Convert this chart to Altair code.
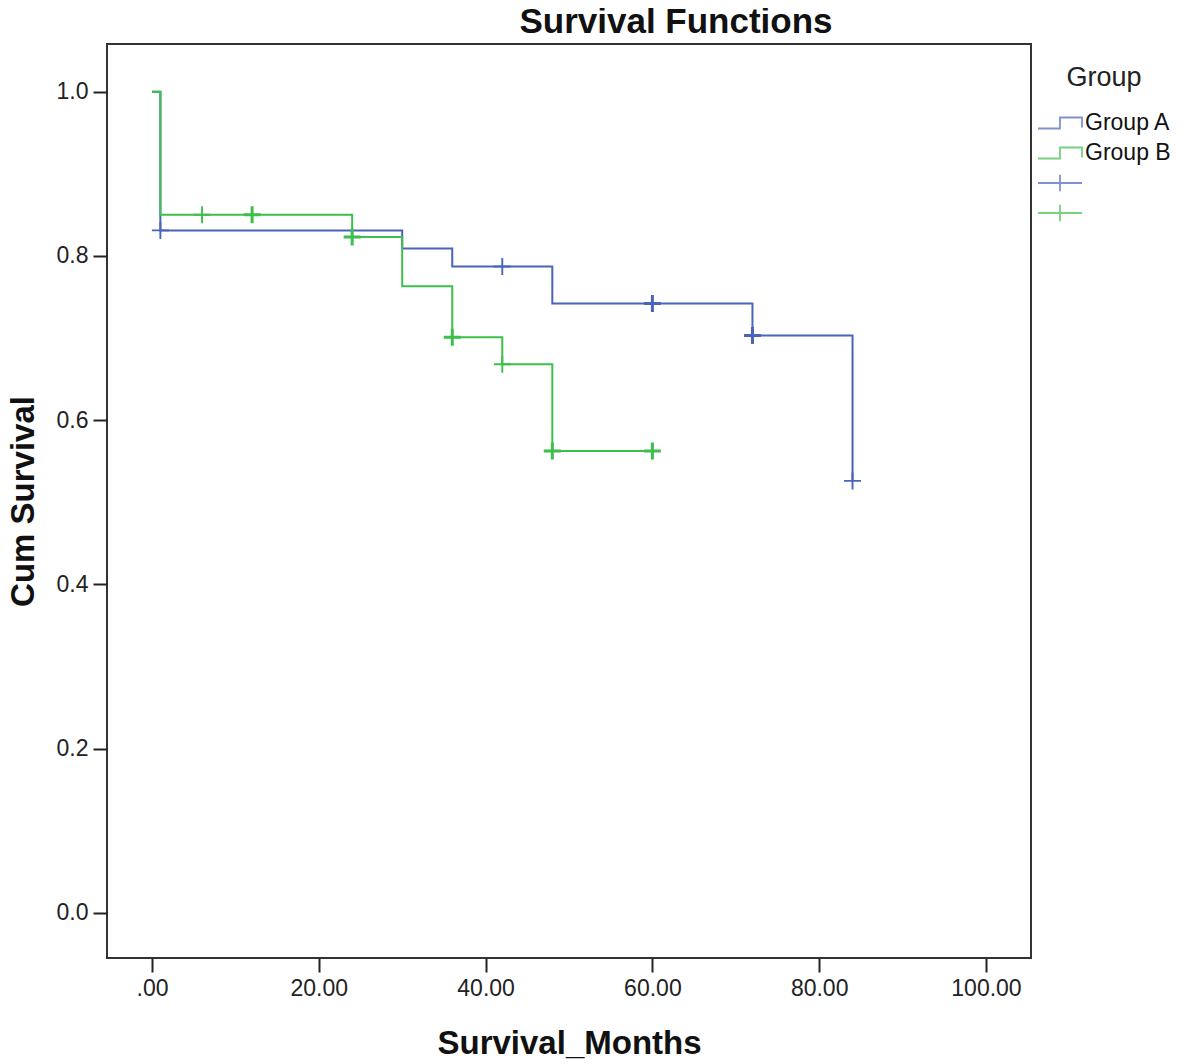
import altair as alt
import pandas as pd

# ---- data ----
a_time = [0, 1, 30, 36, 48, 72, 84]
a_surv = [1.0, 0.831, 0.809, 0.787, 0.742, 0.703, 0.526]
b_time = [0, 1, 24, 30, 36, 42, 48, 60]
b_surv = [1.0, 0.850, 0.823, 0.763, 0.701, 0.668, 0.5625, 0.5625]

a_cens_time = [1, 42, 60, 72, 84]
a_cens_surv = [0.831, 0.787, 0.742, 0.703, 0.526]
a_cens_n = [1, 1, 2, 2, 1]
b_cens_time = [6, 12, 24, 36, 42, 48, 60]
b_cens_surv = [0.850, 0.850, 0.823, 0.701, 0.668, 0.5625, 0.5625]
b_cens_n = [1, 2, 2, 2, 1, 2, 2]

legend_keys = ["Group A", "Group B", "A_c", "B_c"]
x_ticks = [0, 20, 40, 60, 80, 100]
y_ticks = [0.0, 0.2, 0.4, 0.6, 0.8, 1.0]

BLUE = "#4A64BC"
GREEN = "#3EBE4A"
FONT = "Liberation Sans"

lines = pd.DataFrame(
    {"t": a_time + b_time,
     "s": a_surv + b_surv,
     "key": ["Group A"] * len(a_time) + ["Group B"] * len(b_time)}
)
cens = pd.DataFrame(
    {"t": a_cens_time + b_cens_time,
     "s": a_cens_surv + b_cens_surv,
     "n": a_cens_n + b_cens_n,
     "key": ["Group A"] * len(a_cens_time) + ["Group B"] * len(b_cens_time)}
)
leg = pd.DataFrame({"t": [0] * 4, "s": [0] * 4, "key": legend_keys})

color_scale = alt.Scale(domain=legend_keys, range=[BLUE, GREEN, BLUE, GREEN])
STEP = "M-2,0.5H0V-0.5H2V0.4"
PLUS_LEG = "M-2,0H2M0,-0.75V0.75"
shape_scale = alt.Scale(domain=legend_keys, range=[STEP, STEP, PLUS_LEG, PLUS_LEG])

x_enc = alt.X("t:Q", scale=alt.Scale(domain=[-5.4, 105.4], nice=False, zero=False),
              axis=alt.Axis(values=x_ticks, title="Survival_Months",
                            labelExpr="datum.value == 0 ? '.00' : format(datum.value, '.2f')"))
y_enc = alt.Y("s:Q", scale=alt.Scale(domain=[-0.055, 1.058], nice=False, zero=False),
              axis=alt.Axis(values=y_ticks, format=".1f", title="Cum Survival"))

legend_def = alt.Legend(
    title="Group", orient="none", legendX=930, legendY=21,
    titleFontSize=27, titleFontWeight="normal", titleFont=FONT, titleColor="#222",
    titleAnchor="middle", titlePadding=19,
    labelFontSize=23, labelFont=FONT, labelColor="#111",
    labelExpr="indexof(datum.label, '_c') >= 0 ? '' : datum.label",
    symbolSize=484, symbolStrokeWidth=1.8, symbolOffset=11, labelOffset=13,
    rowPadding=6,
)

# legend-only layer first so its legend settings win the merge
legend_layer = alt.Chart(leg).mark_point(filled=False, size=484).encode(
    x=x_enc, y=y_enc,
    color=alt.Color("key:N", scale=color_scale, legend=legend_def),
    shape=alt.Shape("key:N", scale=shape_scale, legend=legend_def),
).transform_filter("datum.t > 1000")

line_layer = alt.Chart(lines).mark_line(interpolate="step-after", strokeWidth=2).encode(
    x=x_enc, y=y_enc,
    color=alt.Color("key:N", scale=color_scale, legend=None),
    detail="key:N",
)

cens_layer = alt.Chart(cens).mark_point(
    shape="M-1,0H1M0,-1V1", size=289, filled=False, opacity=1
).encode(
    x=x_enc, y=y_enc,
    color=alt.Color("key:N", scale=color_scale, legend=None),
    strokeWidth=alt.StrokeWidth("n:Q", scale=alt.Scale(domain=[1, 2], range=[1.9, 3.0]), legend=None),
)

chart = alt.layer(legend_layer, line_layer, cens_layer).properties(
    width=924, height=914,
    autosize=alt.AutoSizeParams(type="none"),
    padding={"left": 99, "top": 36, "right": 142, "bottom": 106},
    title=alt.Title("Survival Functions", fontSize=35, font=FONT, fontWeight="bold",
                    anchor="middle", dx=107, offset=4, color="#111"),
).configure_view(
    stroke="#333", strokeWidth=2
).configure_axis(
    domain=False, grid=False,
    ticks=True, tickColor="#222", tickWidth=2, tickSize=14,
    labelFont=FONT, labelFontSize=23, labelColor="#222", labelPadding=5,
    titleFont=FONT, titleFontSize=33, titleFontWeight="bold", titleColor="#111",
).configure_axisX(titlePadding=27).configure_axisY(titlePadding=16)

chart.save("out.html", embed_options={"renderer": "svg", "actions": False})
